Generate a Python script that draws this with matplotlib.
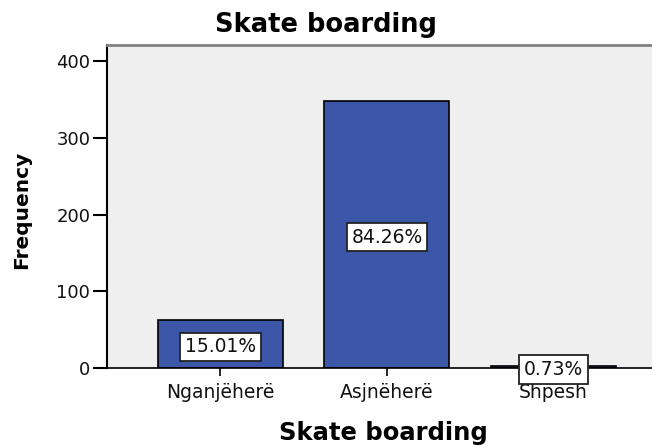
import numpy as np
import matplotlib.pyplot as plt

categories = ['Nganjëherë', 'Asjnëherë', 'Shpesh']
counts = [62, 348, 3]
percents = ['15.01%', '84.26%', '0.73%']
yticks = [0, 100, 200, 300, 400]

fig = plt.figure(figsize=(6.52, 4.46), dpi=100)
ax = fig.add_axes([107 / 652, 78 / 446, 550 / 652, 323 / 446])
ax.set_facecolor('#efefef')

x = np.arange(len(categories))
ax.bar(x, counts, width=0.75, color='#3d57a8', edgecolor='black', linewidth=1.2, zorder=2)

# percentage labels in white boxes, roughly at mid-height of each bar
for xi, c, p in zip(x, counts, percents):
    ax.annotate(p, (xi, max(c / 2, 1)), xytext=(0, -2), textcoords='offset points',
                ha='center', va='center', fontsize=13.5, color='#111111', zorder=3,
                bbox=dict(boxstyle='square,pad=0.25', facecolor='white', edgecolor='#222222', linewidth=1.3))

ax.set_xlim(-0.68, 2.62)
ax.set_ylim(0, 421)
ax.set_xticks(x)
ax.set_xticklabels(categories, fontsize=13.5, color='#111111')
ax.set_yticks(yticks)
ax.set_yticklabels([str(v) for v in yticks], color='#111111')
ax.tick_params(axis='y', labelsize=13, length=10, width=1.5, pad=2)
ax.tick_params(axis='x', length=6, width=1.2, pad=5)

ax.spines['right'].set_visible(False)
ax.spines['top'].set_color('#808080')
ax.spines['top'].set_linewidth(2)
ax.spines['left'].set_linewidth(1.5)
ax.spines['bottom'].set_linewidth(1.2)

fig.text(326 / 652, 1 - 25 / 446, 'Skate boarding', ha='center', va='center', fontsize=18.5, fontweight='bold')
fig.text(383 / 652, 1 - 433 / 446, 'Skate boarding', ha='center', va='center', fontsize=17.5, fontweight='bold')
fig.text(22 / 652, 1 - 210 / 446, 'Frequency', ha='center', va='center', rotation=90, fontsize=14.5, fontweight='bold')

fig.savefig('out.png', dpi=100)
